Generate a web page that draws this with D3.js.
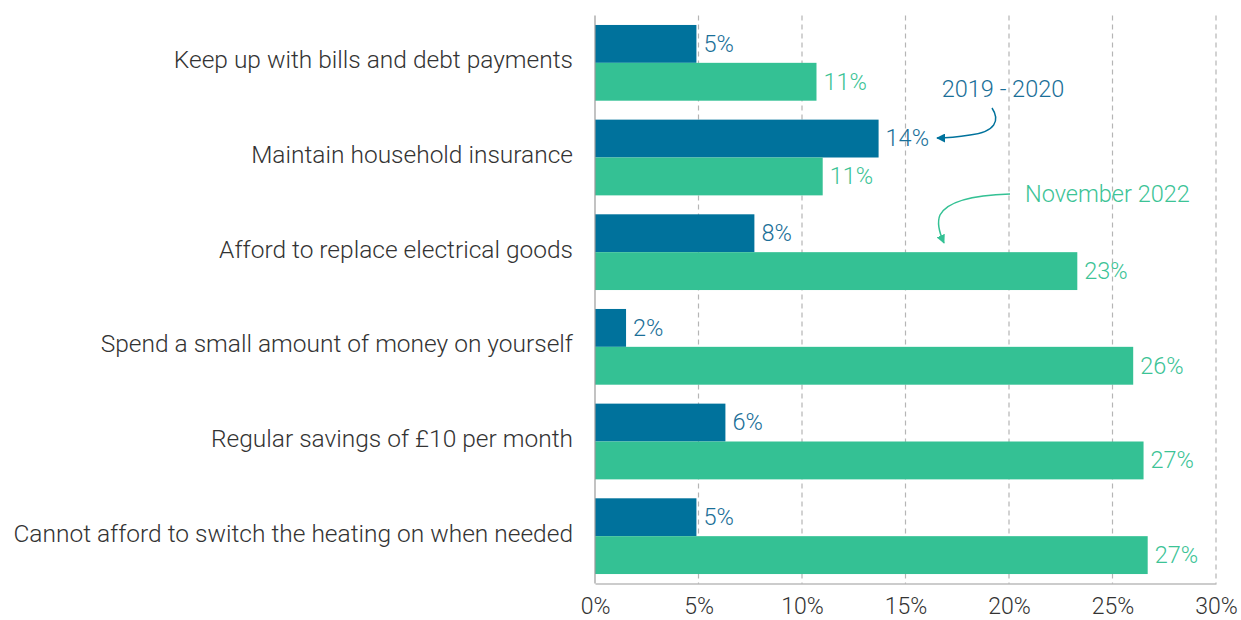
<!DOCTYPE html>
<html>
<head>
<meta charset="utf-8">
<script src="https://cdn.jsdelivr.net/npm/d3@7/dist/d3.min.js"></script>
<style>
  html, body { margin: 0; padding: 0; background: #fff; }
  svg { display: block; }
  text { font-family: Roboto, "Open Sans", sans-serif; font-weight: 300; }
</style>
</head>
<body>
<svg id="chart" width="1241" height="620"></svg>
<script>
// Share of people unable to afford each item, by survey period (%)
const categories = [
  "Keep up with bills and debt payments",
  "Maintain household insurance",
  "Afford to replace electrical goods",
  "Spend a small amount of money on yourself",
  "Regular savings of £10 per month",
  "Cannot afford to switch the heating on when needed"
];
const series = ["2019 - 2020", "November 2022"];
const values2019 = [4.9, 13.7, 7.7, 1.5, 6.3, 4.9];
const values2022 = [10.7, 11.0, 23.3, 26.0, 26.5, 26.7];
const xTicks = [0, 5, 10, 15, 20, 25, 30];

const colors = { "2019 - 2020": "#00729c", "November 2022": "#34c194" };
const labelColors = { "2019 - 2020": "#1a6f98", "November 2022": "#3cc396" };

const svg = d3.select("#chart");
const margin = { left: 595, right: 25, top: 15.5, bottom: 36.5 };
const W = 1241, H = 620;
const FS = 23.5;

const x = d3.scaleLinear().domain([0, 30]).range([margin.left, W - margin.right]);
const y = d3.scaleBand().domain(categories)
  .range([margin.top, H - margin.bottom]).paddingInner(0.2).paddingOuter(0.1);
const ySub = d3.scaleBand().domain(series).range([0, y.bandwidth()]);

const rows = categories.map((c, i) => ({
  category: c,
  bars: [
    { series: series[0], value: values2019[i] },
    { series: series[1], value: values2022[i] }
  ]
}));

const plotTop = margin.top, plotBottom = H - margin.bottom;

// dashed gridlines
svg.append("g").selectAll("line").data(xTicks.filter(t => t > 0)).join("line")
  .attr("x1", d => x(d)).attr("x2", d => x(d))
  .attr("y1", plotTop).attr("y2", plotBottom)
  .attr("stroke", "#b5b5b5").attr("stroke-width", 1.2)
  .attr("stroke-dasharray", "5,4");

// bars
const groups = svg.append("g").selectAll("g").data(rows).join("g")
  .attr("transform", d => `translate(0,${y(d.category)})`);

groups.selectAll("rect").data(d => d.bars).join("rect")
  .attr("x", x(0))
  .attr("y", d => ySub(d.series))
  .attr("width", d => x(d.value) - x(0))
  .attr("height", ySub.bandwidth())
  .attr("fill", d => colors[d.series]);

groups.selectAll("text.val").data(d => d.bars).join("text")
  .attr("class", "val")
  .attr("x", d => x(d.value) + 7)
  .attr("y", d => ySub(d.series) + ySub.bandwidth() / 2)
  .attr("dy", "0.33em")
  .attr("font-size", FS)
  .attr("fill", d => labelColors[d.series])
  .text(d => d3.format(".0f")(d.value) + "%");

// category labels
svg.append("g").selectAll("text").data(categories).join("text")
  .attr("x", margin.left - 22)
  .attr("y", d => y(d) + y.bandwidth() / 2)
  .attr("dy", "0.22em")
  .attr("text-anchor", "end")
  .attr("font-size", 24.5)
  .attr("fill", "#333")
  .text(d => d);

// axes
const xAxis = svg.append("g")
  .attr("transform", `translate(0,${plotBottom})`)
  .call(d3.axisBottom(x).tickValues(xTicks).tickFormat(d => d + "%").tickSize(0).tickPadding(14));
xAxis.select(".domain").attr("stroke", "#9a9a9a").attr("stroke-width", 1.2);
xAxis.selectAll("text").attr("font-size", 23).attr("fill", "#333")
  .attr("font-family", "Roboto, 'Open Sans', sans-serif").attr("font-weight", 300);

svg.append("line")
  .attr("x1", x(0)).attr("x2", x(0))
  .attr("y1", plotTop).attr("y2", plotBottom)
  .attr("stroke", "#9a9a9a").attr("stroke-width", 1.2);

// annotations
const defs = svg.append("defs");
series.forEach((s, i) => {
  defs.append("marker").attr("id", "arrow" + i)
    .attr("viewBox", "0 0 10 10").attr("refX", 9).attr("refY", 5)
    .attr("markerWidth", 6).attr("markerHeight", 6)
    .attr("orient", "auto-start-reverse")
    .append("path").attr("d", "M0,0 L10,5 L0,10 Z").attr("fill", colors[s]);
});

svg.append("text").attr("x", 1003).attr("y", 89).attr("dy", "0.33em")
  .attr("text-anchor", "middle").attr("font-size", FS)
  .attr("fill", labelColors[series[0]]).text(series[0]);
svg.append("path")
  .attr("d", "M992,108 C1000,120 996,132 970,135 C958,137 948,138 937,138")
  .attr("fill", "none").attr("stroke", colors[series[0]]).attr("stroke-width", 1.5)
  .attr("marker-end", "url(#arrow0)");

svg.append("text").attr("x", 1025).attr("y", 194).attr("dy", "0.33em")
  .attr("font-size", FS)
  .attr("fill", labelColors[series[1]]).text(series[1]);
svg.append("path")
  .attr("d", "M1010,194 C975,195 948,200 940,215 C937,222 939,232 944,243")
  .attr("fill", "none").attr("stroke", colors[series[1]]).attr("stroke-width", 1.5)
  .attr("marker-end", "url(#arrow1)");
</script>
</body>
</html>
